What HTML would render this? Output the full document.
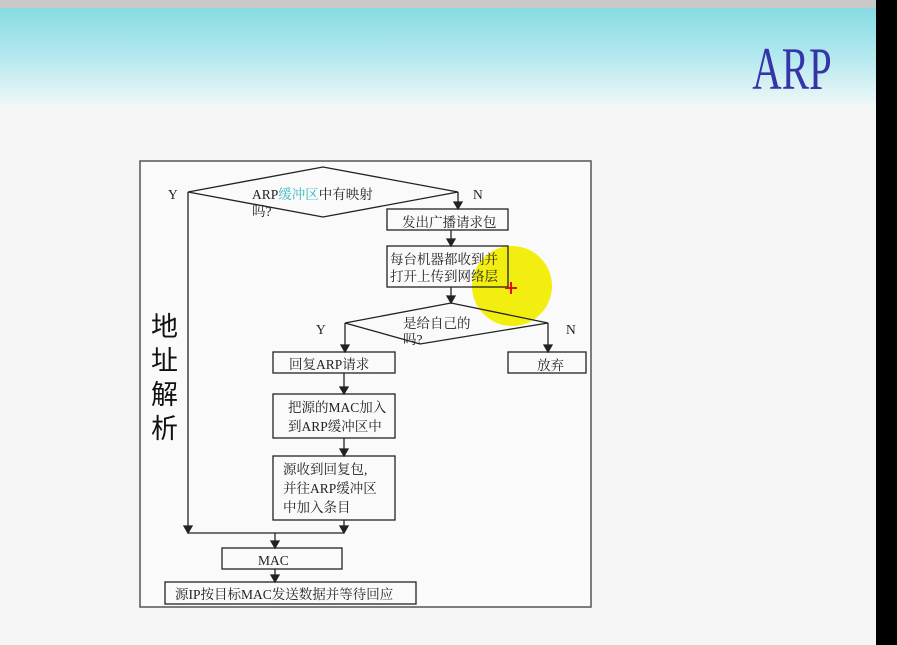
<!DOCTYPE html>
<html><head><meta charset="utf-8"><style>
html,body{margin:0;padding:0;width:897px;height:645px;overflow:hidden;background:#f5f5f5}
</style></head><body>
<svg width="897" height="645" viewBox="0 0 897 645" xmlns="http://www.w3.org/2000/svg" style="position:absolute;left:0;top:0">
<defs>
<linearGradient id="hg" x1="0" y1="0" x2="0" y2="1">
<stop offset="0" stop-color="#86dbe2"/><stop offset="0.5" stop-color="#b5e9ef"/><stop offset="1" stop-color="#f3f8f8"/>
</linearGradient>
</defs>
<rect x="0" y="0" width="897" height="8" fill="#c8c8c8"/>
<rect x="0" y="8" width="876" height="100" fill="url(#hg)"/>
<rect x="876" y="0" width="21" height="645" fill="#000"/>
<text x="792" y="89" font-family="Liberation Serif, serif" font-size="60" fill="#3535a8" text-anchor="middle" transform="translate(792 0) scale(0.68 1) translate(-792 0)">ARP</text>

<rect x="140" y="161" width="451" height="446" fill="#fafafa" stroke="#555" stroke-width="1.5"/>
<circle cx="512" cy="286" r="40" fill="#f2ee10"/>
<g fill="none" stroke="#222" stroke-width="1.3">
<polygon points="188,192 323,167 458,192 323,217"/>
<polygon points="345,323 451,303 548,323 420,344"/>
<rect x="387" y="209" width="121" height="21"/>
<rect x="387" y="246" width="121" height="41"/>
<rect x="273" y="352" width="122" height="21"/>
<rect x="508" y="352" width="78" height="21"/>
<rect x="273" y="394" width="122" height="44"/>
<rect x="273" y="456" width="122" height="64"/>
<rect x="222" y="548" width="120" height="21"/>
<rect x="165" y="582" width="251" height="22"/>
<polyline points="188,192 188,533 344,533"/>
</g>
<g stroke="#222" stroke-width="1.3" fill="#222">
<path d="M458,192 V205"/><path d="M454,202 L462,202 L458,209z"/>
<path d="M451,230 V242"/><path d="M447,239 L455,239 L451,246z"/>
<path d="M451,287 V299"/><path d="M447,296 L455,296 L451,303z"/>
<path d="M345,323 V348"/><path d="M341,345 L349,345 L345,352z"/>
<path d="M548,323 V348"/><path d="M544,345 L552,345 L548,352z"/>
<path d="M344,373 V390"/><path d="M340,387 L348,387 L344,394z"/>
<path d="M344,438 V452"/><path d="M340,449 L348,449 L344,456z"/>
<path d="M344,520 V529"/><path d="M340,526 L348,526 L344,533z"/>
<path d="M184,526 L192,526 L188,533z"/>
<path d="M275,533 V544"/><path d="M271,541 L279,541 L275,548z"/>
<path d="M275,569 V578"/><path d="M271,575 L279,575 L275,582z"/>
</g>
<g font-family="Liberation Serif, 'Noto Serif CJK SC', serif" font-size="13.5" fill="#222">
<text x="168" y="199">Y</text><text x="473" y="199">N</text>
<text x="316" y="334">Y</text><text x="566" y="334">N</text>
<text x="252" y="199">ARP<tspan fill="#30b8c0">缓冲区</tspan>中有映射</text>
<text x="252" y="216">吗?</text>
<text x="402" y="227">发出广播请求包</text>
<text x="390" y="264">每台机器都收到并</text>
<text x="390" y="281">打开上传到网络层</text>
<text x="403" y="328">是给自己的</text>
<text x="403" y="344">吗?</text>
<text x="289" y="369">回复ARP请求</text>
<text x="537" y="370">放弃</text>
<text x="288" y="412">把源的MAC加入</text>
<text x="288" y="431">到ARP缓冲区中</text>
<text x="283" y="474">源收到回复包,</text>
<text x="283" y="493">并往ARP缓冲区</text>
<text x="283" y="512">中加入条目</text>
<text x="258" y="565">MAC</text>
<text x="175" y="599">源IP按目标MAC发送数据并等待回应</text>
</g>
<g font-family="'Noto Sans CJK SC', sans-serif" font-size="27" fill="#111">
<text x="151" y="336">地</text><text x="151" y="370">址</text><text x="151" y="404">解</text><text x="151" y="438">析</text>
</g>
<path d="M511,282 V294 M505,288 H517" stroke="#e01010" stroke-width="2"/>
</svg>
</body></html>
